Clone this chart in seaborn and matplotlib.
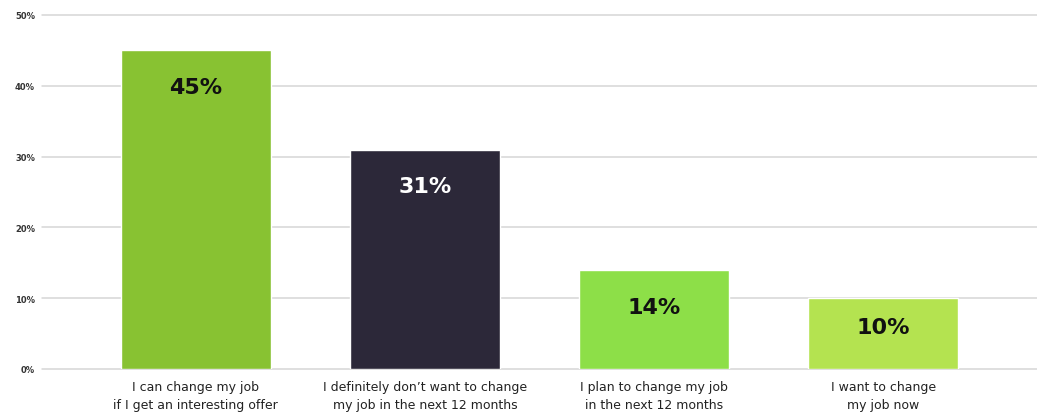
import matplotlib
matplotlib.use("Agg")
import matplotlib.pyplot as plt
import seaborn as sns
import pandas as pd

categories = [
    "I can change my job\nif I get an interesting offer",
    "I definitely don\u2019t want to change\nmy job in the next 12 months",
    "I plan to change my job\nin the next 12 months",
    "I want to change\nmy job now",
]
values = [45, 31, 14, 10]
value_labels = ["45%", "31%", "14%", "10%"]
bar_colors = ["#88c232", "#2c2839", "#8ddf48", "#b4e350"]
label_colors = ["#111111", "#ffffff", "#111111", "#111111"]
y_ticks = [0, 10, 20, 30, 40, 50]
y_tick_labels = ["0%", "10%", "20%", "30%", "40%", "50%"]

sns.set_theme(style="white")
plt.rcParams["font.family"] = ["DejaVu Sans"]

df = pd.DataFrame({"category": categories, "value": values})

fig = plt.figure(figsize=(10.37, 4.14), dpi=100)
ax = fig.add_axes([0.0405, 0.1063, 0.9595, 0.8551])

sns.barplot(data=df, x="category", y="value", hue="category",
            palette=bar_colors, legend=False, width=0.654, ax=ax,
            saturation=1, zorder=3)

ax.set_xlim(-0.67, 3.67)
ax.set_ylim(0, 50)
ax.set_yticks(y_ticks)
ax.set_yticklabels(y_tick_labels, fontsize=6, fontweight="bold", color="#333333")
ax.yaxis.grid(True, color="#d6d6d6", linewidth=1.1, zorder=0)
ax.set_axisbelow(True)
for gl in ax.get_ygridlines():
    gl.set_clip_on(False)
for s in ax.spines.values():
    s.set_visible(False)
ax.tick_params(axis="y", length=0, pad=5)
ax.tick_params(axis="x", length=0, pad=8)
for t in ax.get_xticklabels():
    t.set_fontsize(9)
    t.set_color("#222222")
    t.set_linespacing(1.45)
ax.set_xlabel("")
ax.set_ylabel("")

for i, (v, lab, c) in enumerate(zip(values, value_labels, label_colors)):
    y = max(v - 5.2, v * 0.59)
    ax.text(i, y, lab, ha="center", va="center", fontsize=16,
            fontweight="heavy", color=c, zorder=5)

fig.savefig("out.png", dpi=100)
